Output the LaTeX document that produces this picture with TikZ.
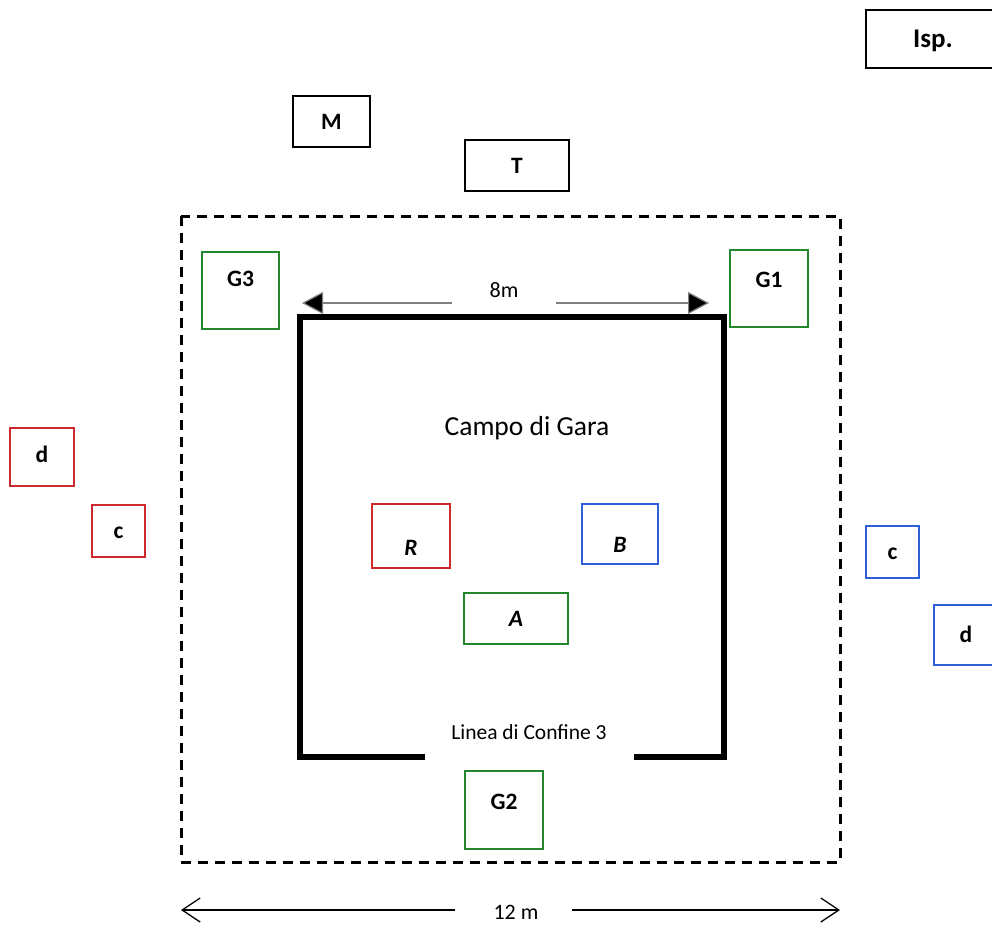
\documentclass[tikz,border=0pt]{standalone}
\usepackage{fontspec}
\setmainfont{Carlito}
\usetikzlibrary{arrows.meta}

\definecolor{boxred}{RGB}{205,40,45}
\definecolor{boxblue}{RGB}{45,95,215}
\definecolor{boxgreen}{RGB}{35,135,45}

\tikzset{
    box/.style={draw, line width=1.8pt, inner sep=0pt, text height=15pt, text depth=0pt, font=\bfseries\fontsize{23.5}{25}\selectfont},
    itbox/.style={box, font=\bfseries\itshape\fontsize{23.5}{25}\selectfont},
    lbl/.style={inner sep=0pt, font=\fontsize{22}{24}\selectfont}
}

\begin{document}
\begin{tikzpicture}[x=1pt,y=-1pt]
    % Page size as the reference
    \useasboundingbox (0,0) rectangle (992,927);

    % Outer area (12 m), dashed
    \draw[line width=3pt, dash pattern=on 10pt off 7pt] (181,216) rectangle (840,862);

    % Field boundary, open at the bottom
    \coordinate (BL1) at (425,757);
    \coordinate (BR1) at (634,757);
    \draw[line width=5.5pt, line join=miter] (BL1) -- (300,757) -- (300,317) -- (724,317) -- (724,757) -- (BR1);

    % Officials outside the area
    \node[box, minimum width=134pt, minimum height=58pt, text height=17.5pt, font=\bfseries\fontsize{27}{29}\selectfont] (Isp) at (933,39) {Isp.};
    \node[box, minimum width=77pt, minimum height=51pt] (M) at (331.5,121.5) {M};
    \node[box, minimum width=104pt, minimum height=51pt] (T) at (517,165.5) {T};

    % Corner judges
    \node[box, draw=boxgreen, minimum width=77pt, minimum height=77pt, text depth=23pt] (G3) at (240.5,290.5) {G3};
    \node[box, draw=boxgreen, minimum width=78pt, minimum height=77pt, text depth=17pt] (G1) at (769,288.5) {G1};
    \node[box, draw=boxgreen, minimum width=78pt, minimum height=78pt, text depth=16pt] (G2) at (504,810) {G2};

    % Width of the field (8m)
    \node[lbl] (w8) at (504,290) {8m};
    \coordinate (W8L) at (302,303);
    \coordinate (W8R) at (709,303);
    \draw[gray, line width=1.2pt, -{Triangle[length=21pt,width=22pt,fill=black]}] (452,303) -- (W8L);
    \draw[gray, line width=1.2pt, -{Triangle[length=21pt,width=22pt,fill=black]}] (556,303) -- (W8R);

    % Texts inside the field
    \node[inner sep=0pt, font=\fontsize{27.5}{30}\selectfont] (campo) at (527,428) {Campo di Gara};
    \node[inner sep=0pt, font=\fontsize{21.5}{24}\selectfont] (linea) at (529,732) {Linea di Confine 3};

    % Competitors and referee
    \node[itbox, draw=boxred, minimum width=78pt, minimum height=64pt, text height=39pt] (R) at (411,536) {R};
    \node[itbox, draw=boxblue, minimum width=76pt, minimum height=60pt, text height=37pt] (B) at (620,534) {B};
    \node[itbox, draw=boxgreen, minimum width=104pt, minimum height=51pt] (A) at (516,618.5) {A};

    % Coaches (c) and doctors (d)
    \node[box, draw=boxred, minimum width=64pt, minimum height=58pt, text depth=4pt] (dR) at (42,457) {d};
    \node[box, draw=boxred, minimum width=53pt, minimum height=52pt] (cR) at (118.5,531) {c};
    \node[box, draw=boxblue, minimum width=53pt, minimum height=52pt] (cB) at (892.5,552) {c};
    \node[box, draw=boxblue, minimum width=64pt, minimum height=60pt] (dB) at (966,635) {d};

    % Width of the area (12 m)
    \node[lbl] (w12) at (516,912) {12 m};
    \coordinate (W12L) at (181,910);
    \coordinate (W12R) at (840,910);
    \draw[line width=1.3pt, -{Straight Barb[length=18pt,width=24pt]}] (455,910) -- (W12L);
    \draw[line width=1.3pt, -{Straight Barb[length=18pt,width=24pt]}] (572,910) -- (W12R);

\end{tikzpicture}
\end{document}
